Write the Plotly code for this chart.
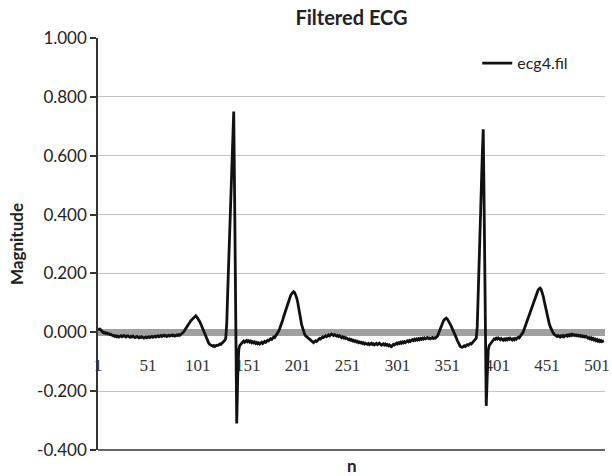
import plotly.graph_objects as go

# ---- data (n = 1..508) ----
magnitude = [
    0.012, 0.010, 0.011, 0.006, 0.002, 0.000, -0.002, -0.001, -0.004, -0.003,
    -0.006, -0.005, -0.008, -0.007, -0.010, -0.012, -0.011, -0.014, -0.012, -0.015,
    -0.013, -0.016, -0.014, -0.012, -0.015, -0.013, -0.011, -0.014, -0.016, -0.013,
    -0.012, -0.015, -0.017, -0.014, -0.016, -0.013, -0.015, -0.018, -0.016, -0.014,
    -0.017, -0.019, -0.016, -0.018, -0.015, -0.017, -0.020, -0.018, -0.016, -0.019,
    -0.017, -0.015, -0.018, -0.016, -0.014, -0.017, -0.015, -0.013, -0.016, -0.014,
    -0.012, -0.015, -0.013, -0.011, -0.014, -0.012, -0.010, -0.013, -0.011, -0.014,
    -0.012, -0.010, -0.013, -0.011, -0.009, -0.012, -0.010, -0.013, -0.011, -0.009,
    -0.011, -0.008, -0.010, -0.007, -0.005, -0.003, 0.002, 0.008, 0.014, 0.020,
    0.024, 0.029, 0.034, 0.039, 0.043, 0.047, 0.051, 0.054, 0.056, 0.052,
    0.048, 0.043, 0.036, 0.028, 0.019, 0.010, 0.001, -0.008, -0.016, -0.024,
    -0.031, -0.037, -0.041, -0.044, -0.046, -0.047, -0.045, -0.048, -0.046, -0.044,
    -0.045, -0.042, -0.040, -0.041, -0.038, -0.035, -0.033, -0.028, -0.020, 0.030,
    0.140, 0.250, 0.360, 0.470, 0.580, 0.680, 0.750, 0.420, 0.050, -0.310,
    -0.150, -0.060, -0.045, -0.040, -0.038, -0.033, -0.030, -0.034, -0.031, -0.028,
    -0.032, -0.029, -0.033, -0.030, -0.035, -0.032, -0.036, -0.033, -0.038, -0.035,
    -0.039, -0.036, -0.040, -0.037, -0.034, -0.038, -0.035, -0.031, -0.034, -0.030,
    -0.027, -0.029, -0.025, -0.022, -0.024, -0.020, -0.016, -0.018, -0.013, -0.008,
    -0.004, 0.004, 0.012, 0.020, 0.030, 0.041, 0.053, 0.064, 0.076, 0.088,
    0.098, 0.108, 0.117, 0.125, 0.131, 0.136, 0.138, 0.135, 0.128, 0.118,
    0.104, 0.088, 0.068, 0.046, 0.026, 0.012, 0.002, -0.006, -0.012, -0.015,
    -0.017, -0.020, -0.024, -0.028, -0.031, -0.033, -0.035, -0.032, -0.029, -0.031,
    -0.027, -0.024, -0.021, -0.023, -0.019, -0.016, -0.018, -0.014, -0.012, -0.015,
    -0.011, -0.009, -0.012, -0.008, -0.006, -0.009, -0.011, -0.008, -0.010, -0.013,
    -0.011, -0.014, -0.012, -0.016, -0.018, -0.015, -0.019, -0.017, -0.021, -0.019,
    -0.022, -0.025, -0.023, -0.027, -0.025, -0.029, -0.027, -0.031, -0.029, -0.033,
    -0.031, -0.035, -0.033, -0.036, -0.034, -0.038, -0.036, -0.040, -0.037, -0.039,
    -0.041, -0.038, -0.042, -0.040, -0.037, -0.041, -0.039, -0.043, -0.040, -0.038,
    -0.042, -0.039, -0.037, -0.041, -0.044, -0.041, -0.039, -0.043, -0.040, -0.044,
    -0.042, -0.046, -0.043, -0.047, -0.049, -0.045, -0.041, -0.043, -0.039, -0.037,
    -0.040, -0.036, -0.038, -0.034, -0.037, -0.033, -0.036, -0.032, -0.035, -0.031,
    -0.029, -0.032, -0.028, -0.031, -0.027, -0.025, -0.028, -0.024, -0.027, -0.023,
    -0.026, -0.022, -0.025, -0.021, -0.024, -0.020, -0.023, -0.019, -0.022, -0.020,
    -0.018, -0.021, -0.019, -0.022, -0.020, -0.018, -0.021, -0.019, -0.020, -0.018,
    -0.014, -0.006, 0.004, 0.014, 0.023, 0.031, 0.038, 0.043, 0.046, 0.048,
    0.045, 0.040, 0.034, 0.027, 0.020, 0.013, 0.006, -0.002, -0.010, -0.019,
    -0.028, -0.036, -0.043, -0.048, -0.050, -0.051, -0.049, -0.046, -0.048, -0.045,
    -0.042, -0.044, -0.041, -0.038, -0.040, -0.036, -0.033, -0.028, -0.024, -0.020,
    0.020, 0.120, 0.240, 0.360, 0.480, 0.600, 0.690, 0.400, 0.080, -0.250,
    -0.150, -0.060, -0.045, -0.040, -0.034, -0.030, -0.025, -0.022, -0.024, -0.020,
    -0.023, -0.019, -0.022, -0.025, -0.021, -0.024, -0.027, -0.023, -0.026, -0.022,
    -0.025, -0.021, -0.024, -0.020, -0.023, -0.026, -0.022, -0.025, -0.021, -0.024,
    -0.020, -0.017, -0.019, -0.014, -0.010, -0.005, 0.001, 0.010, 0.020, 0.030,
    0.041, 0.052, 0.062, 0.072, 0.082, 0.092, 0.102, 0.112, 0.121, 0.130,
    0.138, 0.144, 0.148, 0.150, 0.146, 0.137, 0.124, 0.108, 0.091, 0.074,
    0.058, 0.044, 0.031, 0.020, 0.011, 0.004, -0.002, -0.007, -0.010, -0.012,
    -0.014, -0.011, -0.013, -0.016, -0.012, -0.014, -0.011, -0.015, -0.012, -0.010,
    -0.013, -0.009, -0.012, -0.008, -0.011, -0.007, -0.010, -0.008, -0.011, -0.009,
    -0.012, -0.010, -0.013, -0.011, -0.014, -0.012, -0.015, -0.013, -0.016, -0.014,
    -0.017, -0.020, -0.018, -0.022, -0.019, -0.024, -0.021, -0.026, -0.023, -0.028,
    -0.025, -0.030, -0.027, -0.031, -0.028, -0.032, -0.030, -0.029,
]
n = list(range(1, len(magnitude) + 1))

x_tickvals = [1, 51, 101, 151, 201, 251, 301, 351, 401, 451, 501]
x_ticktext = [str(v) for v in x_tickvals]
y_tickvals = [1.0, 0.8, 0.6, 0.4, 0.2, 0.0, -0.2, -0.4]
y_ticktext = ["1.000", "0.800", "0.600", "0.400", "0.200", "0.000", "-0.200", "-0.400"]

series_name = "ecg4.fil"
title_text = "Filtered ECG"
y_title = "Magnitude"
x_title = "n"

Y_MIN, Y_MAX = -0.4, 1.0
SANS = "Lato, 'Open Sans', sans-serif"

fig = go.Figure()
fig.add_trace(go.Scatter(
    x=n, y=magnitude, mode="lines", name=series_name,
    line=dict(color="#111111", width=2.8),
))

zero_pos = (0 - Y_MIN) / (Y_MAX - Y_MIN)

fig.update_layout(
    template="none",
    width=612, height=476,
    margin=dict(l=98, r=7, t=38, b=26),
    paper_bgcolor="white", plot_bgcolor="white",
    showlegend=True,
    legend=dict(x=0.748, y=0.98, xanchor="left", yanchor="top",
                bgcolor="rgba(0,0,0,0)", font=dict(family=SANS, size=16, color="#222"),
                itemwidth=30),
    title=dict(text="<b>" + title_text + "</b>", x=0.5, xref="paper", xanchor="center",
               y=1 - 18 / 476, yref="container", yanchor="middle",
               font=dict(family=SANS, size=20, color="#222")),
    xaxis=dict(
        automargin=False,
        range=[1, 509], anchor="free", position=zero_pos,
        tickvals=x_tickvals, ticktext=x_ticktext, ticks="",
        ticklabelstandoff=14,
        tickfont=dict(family="'Liberation Serif', serif", size=17, color="#333"),
        showgrid=False, zeroline=False,
        showline=True, linecolor="#a0a0a0", linewidth=7, layer="below traces",
    ),
    yaxis=dict(
        automargin=False,
        range=[Y_MIN, Y_MAX], tickvals=y_tickvals, ticktext=y_ticktext,
        ticks="outside", ticklen=6, tickcolor="#333", tickwidth=1.5,
        tickfont=dict(family=SANS, size=17, color="#222"),
        showgrid=True, gridcolor="#c4c4c4", gridwidth=1.2, zeroline=False,
        showline=True, linecolor="#333", linewidth=1.5,
    ),
    shapes=[dict(type="line", xref="paper", yref="paper", x0=0, x1=1, y0=0, y1=0,
                 line=dict(color="#333", width=1.5))],
    annotations=[
        dict(text="<b>" + x_title + "</b>", xref="paper", yref="paper",
             x=0.5, y=0, yshift=-15, showarrow=False, yanchor="middle",
             font=dict(family=SANS, size=17, color="#222")),
        dict(text="<b>" + y_title + "</b>", xref="paper", yref="paper",
             x=0, xshift=-82, y=0.5, textangle=-90, showarrow=False,
             xanchor="center", yanchor="middle",
             font=dict(family=SANS, size=17, color="#222")),
    ],
)

fig.write_html("out.html",
               config={"displayModeBar": False},
               post_script="document.body.style.margin='0';document.body.style.overflow='hidden';")
